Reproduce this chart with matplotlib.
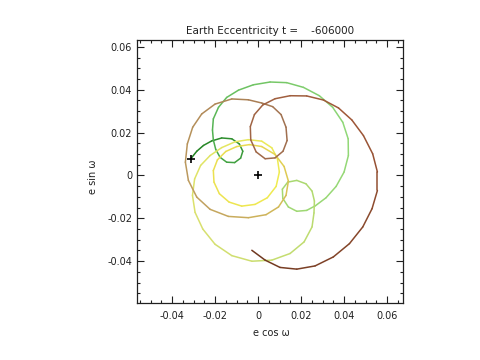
import numpy as np
import matplotlib
matplotlib.use("Agg")
import matplotlib.pyplot as plt
from matplotlib.collections import LineCollection
from matplotlib.colors import LinearSegmentedColormap
from matplotlib.ticker import FixedLocator, MultipleLocator

title_text = "Earth Eccentricity t =    -606000"

x_ticks = [-0.04, -0.02, 0.0, 0.02, 0.04, 0.06]
x_labels = ["-0.04", "-0.02", "0", "0.02", "0.04", "0.06"]
y_ticks = [-0.06, -0.04, -0.02, 0.0, 0.02, 0.04, 0.06]
y_labels = ["-0.06", "-0.04", "-0.02", "0", "0.02", "0.04", "0.06"]

# eccentricity vector path (e cos w, e sin w), oldest first
ecc_x = [
    -0.0313, -0.0285, -0.0254, -0.0216, -0.0169, -0.0122, -0.0087, -0.0071,
    -0.0081, -0.0109, -0.0146, -0.0177, -0.0197, -0.0208, -0.0212,
    -0.0208, -0.0184, -0.0146, -0.0091, -0.0022, 0.0056, 0.0133, 0.0211,
    0.0285, 0.0347, 0.0394, 0.0419, 0.0420, 0.0400, 0.0363, 0.0316, 0.0267,
    0.0226, 0.0180, 0.0141, 0.0115, 0.0113, 0.0138, 0.0180, 0.0223, 0.0251,
    0.0262, 0.0260,
    0.0251, 0.0214, 0.0149, 0.0064, -0.0029, -0.0122, -0.0200, -0.0257,
    -0.0293, -0.0305, -0.0295, -0.0267, -0.0223, -0.0169, -0.0107, -0.0045,
    0.0017, 0.0064, 0.0090, 0.0099, 0.0084, 0.0043, -0.0014, -0.0076,
    -0.0135, -0.0180, -0.0205, -0.0208, -0.0189, -0.0150, -0.0099, -0.0040,
    0.0017,
    0.0079, 0.0121, 0.0141, 0.0130, 0.0095, 0.0037, -0.0045, -0.0138,
    -0.0223, -0.0285, -0.0324, -0.0338, -0.0329, -0.0304, -0.0262, -0.0200,
    -0.0122, -0.0045, 0.0017,
    0.0068, 0.0107, 0.0130, 0.0135, 0.0116, 0.0079, 0.0033, -0.0009,
    -0.0034, -0.0036, -0.0017, 0.0022, 0.0079, 0.0149, 0.0226, 0.0304,
    0.0374, 0.0436, 0.0490, 0.0533, 0.0555, 0.0555, 0.0530, 0.0487,
    0.0425, 0.0350, 0.0265, 0.0180, 0.0102, 0.0033, -0.0029,
]
ecc_y = [
    0.0078, 0.0113, 0.0140, 0.0161, 0.0175, 0.0171, 0.0147, 0.0113,
    0.0081, 0.0060, 0.0062, 0.0085, 0.0122, 0.0166, 0.0212,
    0.0264, 0.0318, 0.0364, 0.0398, 0.0423, 0.0436, 0.0433, 0.0411,
    0.0372, 0.0318, 0.0248, 0.0171, 0.0093, 0.0016, -0.0051, -0.0104, -0.0141,
    -0.0163, -0.0167, -0.0147, -0.0107, -0.0064, -0.0031, -0.0023, -0.0039,
    -0.0073, -0.0119, -0.0175,
    -0.0240, -0.0310, -0.0364, -0.0395, -0.0400, -0.0374, -0.0321, -0.0250,
    -0.0172, -0.0093, -0.0016, 0.0047, 0.0093, 0.0130, 0.0157, 0.0167,
    0.0160, 0.0129, 0.0078, 0.0016, -0.0051, -0.0104, -0.0135, -0.0143,
    -0.0124, -0.0085, -0.0031, 0.0023, 0.0073, 0.0112, 0.0135, 0.0144,
    0.0135,
    0.0098, 0.0042, -0.0026, -0.0093, -0.0147, -0.0183, -0.0197, -0.0191,
    -0.0158, -0.0101, -0.0023, 0.0062, 0.0147, 0.0225, 0.0287, 0.0333,
    0.0357, 0.0353, 0.0338,
    0.0321, 0.0284, 0.0225, 0.0163, 0.0113, 0.0082, 0.0078, 0.0110,
    0.0166, 0.0228, 0.0284, 0.0329, 0.0358, 0.0372, 0.0371, 0.0352,
    0.0315, 0.0259, 0.0186, 0.0101, 0.0016, -0.0070, -0.0155, -0.0240,
    -0.0318, -0.0380, -0.0422, -0.0437, -0.0429, -0.0395, -0.0349,
]
origin_x = [0.0]
origin_y = [0.0]

# time colouring: green -> yellow -> brown
time_cmap = LinearSegmentedColormap.from_list("ecc_time", [
    (0.00, "#208020"),
    (0.10, "#50b050"),
    (0.20, "#90d878"),
    (0.30, "#a8d870"),
    (0.40, "#d8e070"),
    (0.50, "#f0ec50"),
    (0.60, "#e8d850"),
    (0.68, "#c0a060"),
    (0.78, "#a07050"),
    (0.90, "#a05838"),
    (1.00, "#703820"),
])

fig = plt.figure(figsize=(4.8, 3.6), dpi=100)
ax = fig.add_axes([0.2854, 0.1583, 0.5542, 0.7306])

pts = np.column_stack([ecc_x, ecc_y])
segs = np.stack([pts[:-1], pts[1:]], axis=1)
frac = np.linspace(0, 1, len(segs))
lc = LineCollection(segs, colors=time_cmap(frac), linewidths=1.1,
                    capstyle="round", joinstyle="round")
ax.add_collection(lc)

ax.plot(ecc_x[:1], ecc_y[:1], "+", color="black", markersize=6, mew=1.2)
ax.plot(origin_x, origin_y, "+", color="black", markersize=6, mew=1.2)

ax.set_xlim(-0.0563, 0.0674)
ax.set_ylim(-0.0595, 0.0632)

ax.xaxis.set_major_locator(FixedLocator(x_ticks))
ax.set_xticklabels(x_labels)
ax.yaxis.set_major_locator(FixedLocator(y_ticks))
ax.set_yticklabels(y_labels)
ax.xaxis.set_minor_locator(MultipleLocator(0.005))
ax.yaxis.set_minor_locator(MultipleLocator(0.005))
ax.tick_params(which="both", direction="in", top=True, right=True,
               colors="#202020", labelsize=7, width=0.8)
ax.tick_params(which="major", length=5)
ax.tick_params(which="minor", length=2.5)
ax.tick_params(axis="x", pad=6)
ax.tick_params(axis="y", pad=3.5)
for sp in ax.spines.values():
    sp.set_linewidth(0.9)
    sp.set_color("#202020")

ax.set_title(title_text, fontsize=7.5, color="#202020", pad=4.5)
ax.set_xlabel("e cos ω", fontsize=7, color="#202020")
ax.set_ylabel("e sin ω", fontsize=7, color="#202020")
ax.xaxis.set_label_coords(0.507, -0.095)
ax.yaxis.set_label_coords(-0.145, 0.48)

fig.savefig("out.png", dpi=100)
